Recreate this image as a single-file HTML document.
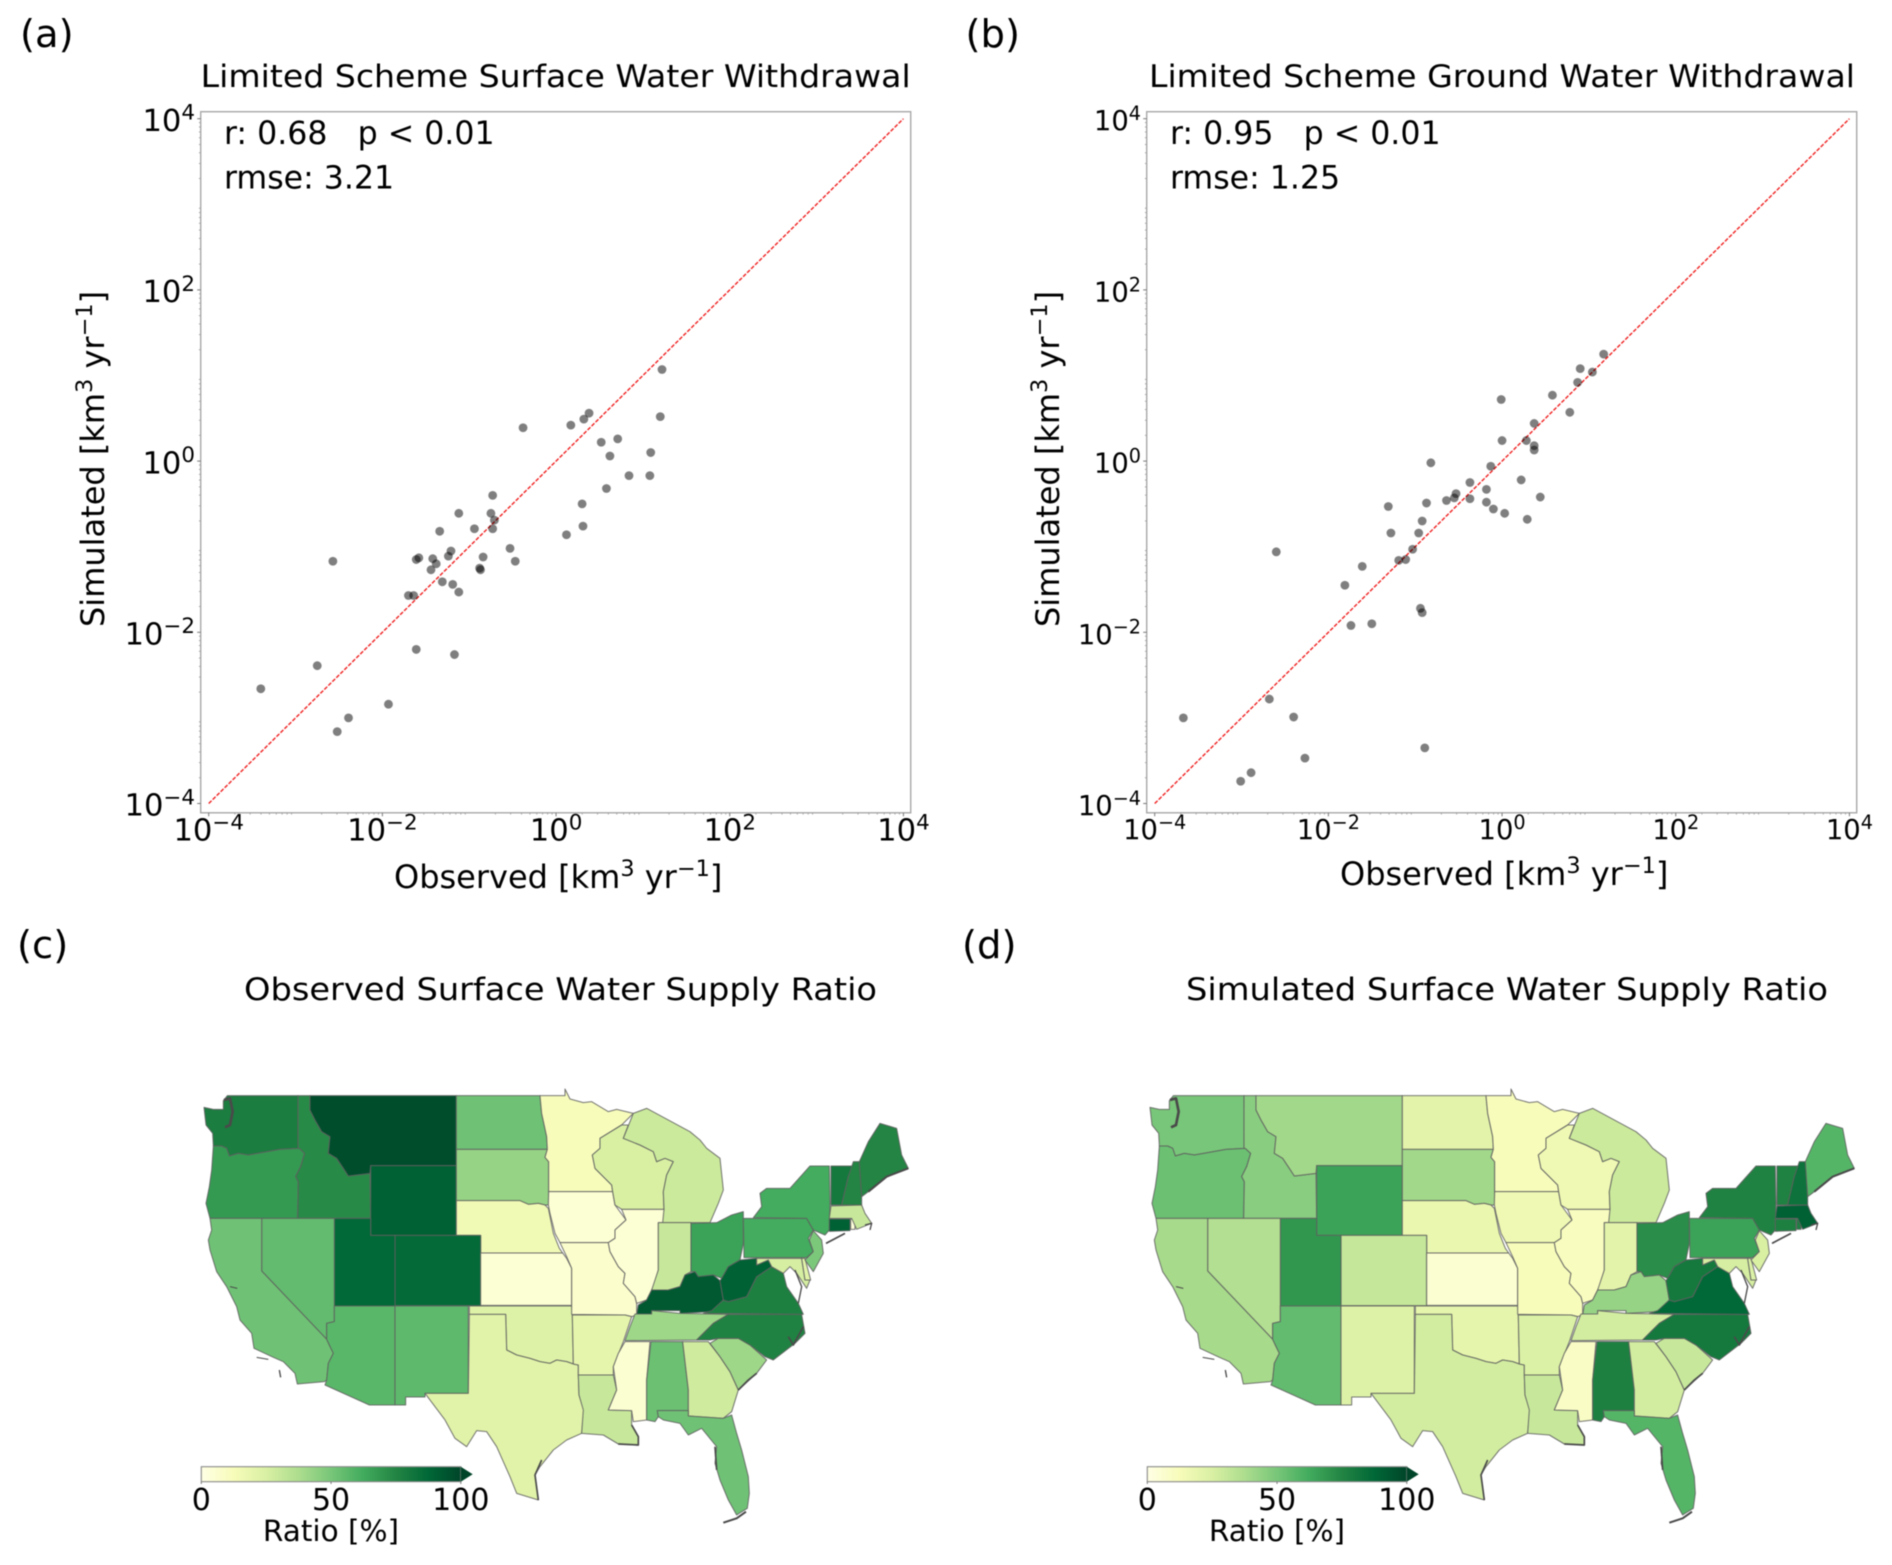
<!DOCTYPE html>
<html lang="en">
<head>
<meta charset="utf-8">
<title>Limited Scheme Water Withdrawal and Supply Ratio</title>
<style>
html,body{margin:0;padding:0;background:#fff;}
svg{display:block;filter:blur(0.45px);}
text{font-family:"DejaVu Sans","Liberation Sans",sans-serif;fill:#000;white-space:pre;}
</style>
</head>
<body>
<svg id="figure" xmlns="http://www.w3.org/2000/svg" width="1892" height="1565" viewBox="0 0 1892 1565">
  <rect x="0" y="0" width="1892" height="1565" fill="#fff"/>
  <defs>
    <linearGradient id="cbarGradient" x1="0" y1="0" x2="1" y2="0"></linearGradient>
  </defs>

  <text x="20" y="47" font-size="38.5">(a)</text>
  <text x="965.5" y="47" font-size="38.5">(b)</text>
  <text x="17" y="958" font-size="38.5">(c)</text>
  <text x="962" y="958" font-size="38.5">(d)</text>

  <text x="200.7" y="87" font-size="31" textLength="710" lengthAdjust="spacingAndGlyphs">Limited Scheme Surface Water Withdrawal</text>
  <text x="1149" y="87" font-size="31" textLength="706" lengthAdjust="spacingAndGlyphs">Limited Scheme Ground Water Withdrawal</text>
  <text x="244" y="1000" font-size="31" textLength="633" lengthAdjust="spacingAndGlyphs">Observed Surface Water Supply Ratio</text>
  <text x="1186" y="1000" font-size="31" textLength="642" lengthAdjust="spacingAndGlyphs">Simulated Surface Water Supply Ratio</text>

  <g id="scatter-a"></g>
  <g id="scatter-b"></g>

  <text x="224" y="144" font-size="31.6">r: 0.68   p &lt; 0.01</text>
  <text x="224" y="188.5" font-size="31.6">rmse: 3.21</text>
  <text x="1170" y="144" font-size="31.6">r: 0.95   p &lt; 0.01</text>
  <text x="1170" y="188.5" font-size="31.6">rmse: 1.25</text>

  <text x="394" y="888" font-size="32">Observed [km<tspan font-size="22.4" dy="-12">3</tspan><tspan dy="12"> yr</tspan><tspan font-size="22.4" dy="-12">−1</tspan><tspan dy="12">]</tspan></text>
  <text x="1340" y="885" font-size="32">Observed [km<tspan font-size="22.4" dy="-12">3</tspan><tspan dy="12"> yr</tspan><tspan font-size="22.4" dy="-12">−1</tspan><tspan dy="12">]</tspan></text>
  <text transform="translate(104,627) rotate(-90)" font-size="32">Simulated [km<tspan font-size="22.4" dy="-12">3</tspan><tspan dy="12"> yr</tspan><tspan font-size="22.4" dy="-12">−1</tspan><tspan dy="12">]</tspan></text>
  <text transform="translate(1059,627) rotate(-90)" font-size="32">Simulated [km<tspan font-size="22.4" dy="-12">3</tspan><tspan dy="12"> yr</tspan><tspan font-size="22.4" dy="-12">−1</tspan><tspan dy="12">]</tspan></text>

  <g id="map-c" transform="translate(180,1070) scale(0.33333)"></g>
  <g id="map-d" transform="translate(1126,1070) scale(0.33333)"></g>

  <g id="cbar-c" transform="translate(0,0)"></g>
  <g id="cbar-d" transform="translate(946,0)"></g>
</svg>

<script>
// ---------- scatter data: log10 of km3/yr ----------
const observedLog10A = [-3.40,-2.75,-2.57,-2.52,-2.39,-1.93,-1.61,-1.17,-1.70,-1.64,-1.61,-1.58,-1.44,-1.42,-1.38,-1.34,-1.31,-1.24,-1.21,-1.19,-1.12,-1.12,-0.94,-0.88,-0.87,-0.84,-0.75,-0.73,-0.73,-0.71,-0.53,-0.47,-0.38,0.12,0.17,0.30,0.31,0.32,0.38,0.52,0.58,0.62,0.71,0.84,1.08,1.09,1.20,1.22];
const simulatedLog10A = [-2.66,-2.39,-1.17,-3.16,-3.00,-2.84,-2.20,-2.26,-1.57,-1.57,-1.15,-1.13,-1.27,-1.14,-1.20,-0.82,-1.41,-1.11,-1.05,-1.44,-1.53,-0.61,-0.79,-1.25,-1.27,-1.12,-0.61,-0.40,-0.79,-0.69,-1.02,-1.17,0.39,-0.86,0.42,-0.50,-0.76,0.49,0.56,0.22,-0.32,0.06,0.26,-0.17,-0.17,0.10,0.52,1.07];
const observedLog10B = [-3.67,-3.01,-2.89,-2.68,-2.60,-2.40,-2.27,-1.81,-1.74,-1.61,-1.50,-1.31,-1.28,-1.19,-1.11,-1.03,-0.96,-0.94,-0.92,-0.89,-0.92,-0.87,-0.82,-0.64,-0.55,-0.53,-0.37,-0.37,-0.18,-0.18,-0.13,-0.10,-0.01,0.00,0.03,0.22,0.28,0.29,0.37,0.37,0.37,0.44,0.58,0.78,0.87,0.90,1.04,1.17];
const simulatedLog10B = [-3.00,-3.74,-3.64,-2.78,-1.06,-2.99,-3.47,-1.45,-1.92,-1.23,-1.90,-0.53,-0.84,-1.16,-1.15,-1.03,-0.84,-1.72,-1.77,-3.35,-0.70,-0.49,-0.02,-0.46,-0.43,-0.38,-0.25,-0.44,-0.48,-0.33,-0.06,-0.56,0.72,0.24,-0.61,-0.22,0.24,-0.68,0.44,0.18,0.13,-0.42,0.77,0.57,0.92,1.08,1.04,1.25];
const tickExponents = [-4,-2,0,2,4];
const tickLabels = ['−4','−2','0','2','4'];

// ---------- choropleth data ----------
const stateNames = ['wa','or','id','mt','wy','nd','sd','ne','co','ks','ut','nv','ca','az','nm','ok','tx','mn','ia','mo','ar','la','wi','mi','il','in','oh','ky','tn','ms','al','ga','sc','fl','nc','va','wv','md','de','pa','nj','ny','ct','ri','ma','vt','nh','me'];
const observedRatio  = [78,68,73,97,90,52,43,15,86,5,87,55,52,57,56,23,22,12,5,7,20,30,25,29,5,30,65,93,41,6,53,28,41,52,76,77,90,26,22,62,49,62,90,3,30,80,75,75];
const simulatedRatio = [50,53,46,40,65,21,40,18,31,6,69,36,39,55,23,20,27,12,16,12,24,30,16,29,11,21,72,43,27,9,77,27,30,58,80,87,80,26,24,65,25,76,77,77,90,76,83,58];
const colorbarTicks = [0,50,100];

// YlGn colormap anchors
const cmapStops = ['#ffffe5','#f7fcb9','#d9f0a3','#addd8e','#78c679','#41ab5d','#238443','#006837','#004529'];

// Map outline geometry (not data). West: 3x map units. East: same units, shifted by eastOffset.
const eastOffset = 1080;
const westShapes = {
  wa:'142,77 354,77 354,235 300,238 250,247 205,255 175,250 148,258 140,235 125,228 100,228 98,190 78,165 72,112 100,118 130,118 130,92',
  or:'100,228 125,228 140,235 148,258 175,250 205,255 250,247 300,238 358,235 374,250 362,290 347,320 355,335 353,445 90,445 78,400 88,350 95,300',
  id:'354,77 390,77 390,120 405,150 425,185 450,200 445,250 470,265 490,295 505,318 570,310 572,445 353,445 355,335 347,320 362,290 374,250 358,235 354,235',
  mt:'390,77 829,77 829,287 572,287 570,310 505,318 490,295 470,265 445,250 450,200 425,185 405,150 390,120',
  wy:'572,287 829,287 829,496 572,496',
  nd:'829,77 1080,77 1085,130 1100,200 1102,238 829,238',
  sd:'829,238 1102,238 1095,262 1106,275 1106,405 1095,405 1075,400 1045,403 1020,392 829,392',
  ne:'829,392 1020,392 1045,403 1075,400 1095,405 1105,415 1120,490 1138,535 1148,549 902,549 902,496 829,496',
  co:'645,496 902,496 902,707 645,707',
  ks:'902,549 1148,549 1160,565 1175,595 1175,706 902,706',
  ut:'463,445 572,445 572,496 645,496 645,708 463,708',
  nv:'245,445 463,445 463,755 440,760 440,808 245,603',
  ca:'90,445 245,445 245,603 440,808 448,825 460,850 445,880 440,930 433,935 352,942 345,910 310,875 280,862 222,835 215,790 180,750 170,710 140,650 110,605 90,540 85,510 95,480',
  az:'463,708 645,708 645,1005 568,1005 435,945 440,930 445,880 460,850 448,825 440,808 440,760 463,755',
  nm:'645,708 865,708 865,970 735,970 735,981 677,981 677,1005 645,1005',
  ok:'868,708 1175,708 1177,735 1180,882 1160,875 1130,870 1110,880 1080,875 1050,865 1010,855 980,840 977,733 868,733',
  tx:'868,733 977,733 980,840 1010,855 1050,865 1080,875 1110,880 1130,870 1160,875 1180,882 1195,885 1195,915 1197,975 1212,1020 1205,1090 1160,1110 1120,1140 1080,1190 1065,1215 1075,1290 1010,1270 990,1220 950,1130 920,1085 890,1082 860,1130 825,1105 795,1050 735,970 865,970'
};
const eastShapes = {
  mn:'0,77 75,77 75,57 90,87 130,98 155,95 205,125 230,118 280,130 245,165 180,205 180,235 157,255 165,295 215,345 218,365 26,365 26,275 15,262 22,238 20,200 5,130',
  ia:'26,365 218,365 225,405 258,450 225,480 225,505 205,518 60,518 45,490 30,430 25,405',
  mo:'60,518 205,518 210,545 235,590 255,610 250,640 285,680 290,700 290,735 275,740 255,735 95,733 95,595 80,560',
  ar:'97,735 255,735 275,740 250,815 220,890 220,915 115,915 115,885 100,882',
  la:'115,915 220,915 230,960 205,1020 275,1022 275,1065 295,1100 295,1125 235,1122 190,1095 125,1090 130,1020 117,975',
  wi:'180,205 245,165 265,165 250,205 300,225 340,245 350,275 375,265 400,275 380,315 370,365 372,418 245,418 225,405 218,365 215,345 165,295 157,255 180,235',
  mi:'320,115 450,185 480,210 500,235 540,265 550,360 535,400 510,458 355,458 372,418 370,365 380,315 400,275 375,265 350,275 340,245 300,225 250,205 280,130',
  il:'245,418 372,418 368,458 355,458 355,600 340,650 320,690 290,700 285,680 250,640 255,610 235,590 210,545 205,518 225,505 225,480 258,450',
  in:'355,458 453,458 453,605 435,615 420,650 385,660 360,660 335,660 355,600',
  oh:'453,460 530,458 575,435 610,425 610,520 600,570 565,590 545,625 520,615 475,620 465,605 453,605',
  ky:'335,660 360,660 385,660 420,650 435,615 465,605 475,620 520,615 540,632 550,690 515,725 420,730 420,722 335,722 335,735 290,735 295,705 320,690',
  tn:'285,732 335,732 335,722 420,730 565,733 520,760 470,810 255,812 270,770',
  ms:'255,815 330,815 320,930 320,1050 280,1055 275,1022 205,1020 230,960 220,890 235,850',
  al:'333,815 428,815 445,960 445,1022 352,1022 355,1040 345,1055 320,1050 320,930',
  ga:'428,815 505,815 540,860 570,905 595,960 575,1025 550,1045 445,1038 445,960',
  sc:'510,820 535,805 595,805 630,825 680,870 650,910 595,960 570,905 540,860',
  fl:'352,1022 445,1022 445,1038 550,1045 575,1035 590,1090 605,1140 625,1220 628,1270 622,1315 590,1335 565,1290 540,1230 525,1180 530,1130 485,1075 445,1095 420,1060 370,1050 355,1040',
  nc:'565,733 785,733 795,790 765,820 700,870 675,860 630,825 595,805 535,805 510,810 470,810 520,760',
  va:'490,730 515,722 550,690 565,695 620,680 650,620 695,590 730,610 740,650 775,700 790,733',
  wv:'600,570 650,565 650,585 685,570 695,590 650,620 620,680 565,695 550,690 540,632 545,625 565,590',
  md:'650,565 785,565 795,630 810,630 800,655 770,610 750,590 730,610 695,590 685,570 650,585',
  de:'785,565 795,565 812,630 795,630',
  pa:'610,445 800,445 820,480 805,505 820,545 800,563 612,563',
  nj:'820,482 845,510 850,550 820,605 795,570 820,545 808,510',
  ny:'640,443 665,410 660,370 680,355 750,355 810,288 868,288 870,400 868,480 855,495 820,480 800,445',
  ct:'868,447 930,447 930,482 868,484',
  ri:'932,447 945,447 945,478 932,478',
  ma:'873,408 965,405 975,430 995,460 950,478 935,445 868,445',
  vt:'873,288 940,288 925,320 905,405 873,405',
  nh:'940,275 958,275 965,380 965,405 905,405 925,320',
  me:'958,275 985,215 1020,160 1070,175 1085,255 1105,295 1040,320 985,365 965,380'
};
const coastDetails = [
  [0,'132,90 150,85 155,110 158,125 150,165 135,172',8],
  [0,'150,650 172,655',3],
  [0,'230,862 265,868',3],
  [0,'298,900 302,922',4],
  [1,'985,365 1040,320 1105,295',6],
  [1,'595,960 625,930 650,910',5],
  [1,'745,800 760,825 790,770',5],
  [1,'775,700 785,650 765,600',4],
  [1,'858,520 915,490',5],
  [1,'275,1065 295,1100 295,1125 235,1122',5],
  [1,'530,1200 525,1130',5],
  [1,'550,1358 590,1345 618,1325',6],
  [0,'1085,1170 1065,1215 1075,1290',5],
  [1,'975,465 995,460 990,480',4]
];

const SVGNS = 'http://www.w3.org/2000/svg';
function make(tag, parent, attrs) {
  const el = document.createElementNS(SVGNS, tag);
  for (const k in attrs) el.setAttribute(k, attrs[k]);
  parent.appendChild(el);
  return el;
}

// ---------- colormap ----------
function hexToRgb(h){return [1,3,5].map(i=>parseInt(h.substr(i,2),16));}
function ratioColor(v){
  const t = Math.max(0,Math.min(1,v/100))*(cmapStops.length-1);
  const i = Math.min(Math.floor(t),cmapStops.length-2);
  const f = t-i, a = hexToRgb(cmapStops[i]), b = hexToRgb(cmapStops[i+1]);
  return 'rgb('+a.map((c,j)=>Math.round(c+(b[j]-c)*f)).join(',')+')';
}

// ---------- scatter panels ----------
const AXIS_TOP = 111.7, AXIS_BOTTOM = 812.8, AXIS_WIDTH = 710;
function yScale(e){ return 803.5-(e+4)*85.6; }

function drawScatterPanel(groupId, originX, xValues, yValues, tickFont, supFont, xTickBase, yTickRight, yTickOffset) {
  const g = document.getElementById(groupId);
  const axisLeft = originX;
  const xScale = e => originX+8+(e+4)*86.84;

  const frame = make('rect', g, {x:axisLeft,y:AXIS_TOP,width:AXIS_WIDTH,height:AXIS_BOTTOM-AXIS_TOP,fill:'none',stroke:'#a8a8a8','stroke-width':1.4});
  
  

  // minor ticks
  for (let i=0;i<tickExponents.length-1;i++){
    for (let d=-4+i*2;d<-4+(i+1)*2;d++){
      for (let m=2;m<10;m++){
        const e = d+Math.log10(m);
        const mx = make('line', g, {x1:xScale(e),x2:xScale(e),y1:AXIS_BOTTOM,y2:AXIS_BOTTOM+1.8,stroke:'#999','stroke-width':0.8});
        
        
        const my = make('line', g, {x1:axisLeft-1.8,x2:axisLeft,y1:yScale(e),y2:yScale(e),stroke:'#999','stroke-width':0.8});
        
        
      }
    }
  }

  // major ticks and labels
  tickExponents.forEach((e,i)=>{
    const tx = make('line', g, {x1:xScale(e),x2:xScale(e),y1:AXIS_BOTTOM,y2:AXIS_BOTTOM+3.5,stroke:'#777','stroke-width':1});
    
    
    const ty = make('line', g, {x1:axisLeft-3.5,x2:axisLeft,y1:yScale(e),y2:yScale(e),stroke:'#777','stroke-width':1});
    
    

    const lx = make('text', g, {x:xScale(e),y:xTickBase,'font-size':tickFont,'text-anchor':'middle'});
    
    
    lx.appendChild(document.createTextNode('10'));
    make('tspan', lx, {'font-size':supFont,dy:-tickFont*0.37}).textContent = tickLabels[i];

    const ly = make('text', g, {x:yTickRight,y:yScale(e)+yTickOffset,'font-size':tickFont,'text-anchor':'end'});
    
    
    ly.appendChild(document.createTextNode('10'));
    make('tspan', ly, {'font-size':supFont,dy:-tickFont*0.37}).textContent = tickLabels[i];
  });

  // identity line
  const lo = tickExponents[0], hi = tickExponents[tickExponents.length-1];
  const line = make('line', g, {x1:xScale(lo),y1:yScale(lo),x2:xScale(hi),y2:yScale(hi),stroke:'#f02020','stroke-width':1.4,'stroke-dasharray':'4 1.6'});
  
  

  // points
  xValues.forEach((xv,i)=>{
    const c = make('circle', g, {cx:xScale(xv),cy:yScale(yValues[i]),r:4.4,fill:'#000','fill-opacity':0.5});
    
    
  });
}
drawScatterPanel('scatter-a', 200.7, observedLog10A, simulatedLog10A, 30.6, 21.4, 840.7, 195, 12.2);
drawScatterPanel('scatter-b', 1146.7, observedLog10B, simulatedLog10B, 27.4, 19.2, 839, 1141, 11.5);

// ---------- maps ----------
function shapePoints(name){
  if (westShapes[name]) return westShapes[name];
  return eastShapes[name].split(' ').map(p=>{
    const c = p.split(',');
    return (Number(c[0])+eastOffset)+','+c[1];
  }).join(' ');
}
function drawMap(groupId, values){
  const g = document.getElementById(groupId);
  stateNames.forEach((name,i)=>{
    const poly = make('polygon', g, {points:shapePoints(name),fill:ratioColor(values[i]),stroke:'#5f5f5f','stroke-width':3.1,'stroke-linejoin':'round','stroke-opacity':0.85});
    
    
  });
  coastDetails.forEach(d=>{
    const pts = d[1].split(' ').map(p=>{
      const c = p.split(',');
      return (Number(c[0])+(d[0]?eastOffset:0))+','+c[1];
    }).join(' ');
    const pl = make('polyline', g, {points:pts,fill:'none',stroke:'#4a4a4a','stroke-width':d[2],'stroke-linejoin':'round'});
    
    
  });
}
drawMap('map-c', observedRatio);
drawMap('map-d', simulatedRatio);

// ---------- colorbars ----------
const grad = document.getElementById('cbarGradient');
cmapStops.forEach((c,i)=>{
  make('stop', grad, {offset:(i/(cmapStops.length-1)*100)+'%','stop-color':c});
});
function drawColorbar(groupId){
  const g = document.getElementById(groupId);
  const cx = v => 201.3+v*2.595;
  const r = make('rect', g, {x:201.3,y:1466.7,width:259.5,height:15,fill:'url(#cbarGradient)',stroke:'#8a8a8a','stroke-width':1.1});
  
  
  const a = make('polygon', g, {points:'460.8,1466.7 472.7,1474.2 460.8,1481.7',fill:cmapStops[cmapStops.length-1]});
  
  
  colorbarTicks.forEach(v=>{
    const t = make('line', g, {x1:cx(v),x2:cx(v),y1:1481.7,y2:1484,stroke:'#777','stroke-width':1});
    
    
    const l = make('text', g, {x:cx(v),y:1510,'font-size':30,'text-anchor':'middle'});
    
    
    l.textContent = String(v);
  });
  const lab = make('text', g, {x:331,y:1541,'font-size':29.5,'text-anchor':'middle'});
  
  
  lab.textContent = 'Ratio [%]';
}
drawColorbar('cbar-c');
drawColorbar('cbar-d');
</script>
</body>
</html>
